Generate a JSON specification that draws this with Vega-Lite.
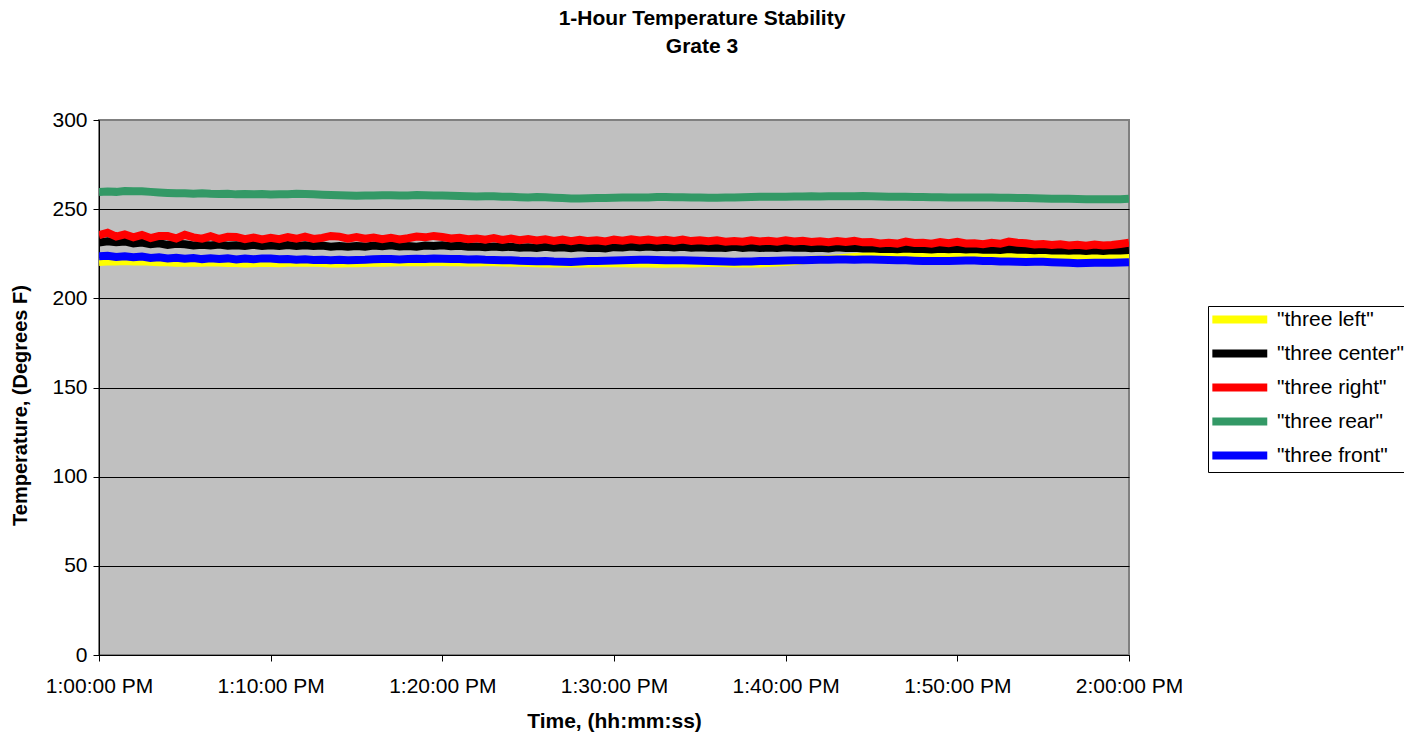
{
  "$schema": "https://vega.github.io/schema/vega-lite/v6.json",
  "width": 1030,
  "height": 535,
  "autosize": {"type": "none"},
  "padding": {"left": 99, "top": 120, "right": 275, "bottom": 81},
  "background": "white",
  "config": {
    "font": "Liberation Sans",
    "view": {"fill": "#C0C0C0", "stroke": "#808080", "strokeWidth": 2}
  },
  "title": {
    "text": ["1-Hour Temperature Stability", "Grate 3"],
    "font": "Liberation Sans",
    "fontSize": 21,
    "fontWeight": "bold",
    "color": "black",
    "anchor": "middle",
    "dx": 88,
    "lineHeight": 28,
    "offset": 52
  },
  "data": {
    "values": [
      {"t":0,"left":220.4,"center":231.3,"right":235.5,"rear":259.6,"front":223.6},
      {"t":0.5,"left":220.7,"center":232.0,"right":236.8,"rear":259.9,"front":223.9},
      {"t":1,"left":220.6,"center":231.4,"right":234.6,"rear":259.7,"front":223.2},
      {"t":1.5,"left":220.9,"center":231.9,"right":235.9,"rear":260.2,"front":223.6},
      {"t":2,"left":220.7,"center":230.8,"right":234.2,"rear":260.0,"front":223.0},
      {"t":2.5,"left":220.8,"center":231.3,"right":235.6,"rear":260.1,"front":223.4},
      {"t":3,"left":220.5,"center":230.4,"right":233.8,"rear":259.7,"front":222.6},
      {"t":3.5,"left":220.3,"center":230.9,"right":235.0,"rear":259.4,"front":223.0},
      {"t":4,"left":220.2,"center":230.0,"right":234.9,"rear":259.1,"front":222.4},
      {"t":4.5,"left":219.9,"center":230.6,"right":233.6,"rear":258.9,"front":222.8},
      {"t":5,"left":219.9,"center":230.3,"right":235.6,"rear":258.9,"front":222.2},
      {"t":5.5,"left":220.1,"center":229.7,"right":234.2,"rear":258.7,"front":222.6},
      {"t":6,"left":220.0,"center":230.1,"right":233.5,"rear":258.9,"front":222.0},
      {"t":6.5,"left":220.2,"center":229.6,"right":234.8,"rear":258.6,"front":222.5},
      {"t":7,"left":220.1,"center":230.2,"right":233.3,"rear":258.5,"front":222.1},
      {"t":7.5,"left":219.8,"center":229.5,"right":234.5,"rear":258.7,"front":222.4},
      {"t":8,"left":219.8,"center":229.8,"right":234.4,"rear":258.3,"front":221.8},
      {"t":8.5,"left":219.6,"center":229.4,"right":233.2,"rear":258.5,"front":222.3},
      {"t":9,"left":219.7,"center":230.0,"right":234.1,"rear":258.3,"front":221.9},
      {"t":9.5,"left":219.9,"center":229.3,"right":233.0,"rear":258.5,"front":222.4},
      {"t":10,"left":219.8,"center":229.7,"right":233.9,"rear":258.2,"front":222.3},
      {"t":10.5,"left":219.7,"center":229.3,"right":233.2,"rear":258.4,"front":221.9},
      {"t":11,"left":219.9,"center":229.9,"right":234.4,"rear":258.4,"front":222.1},
      {"t":11.5,"left":220.0,"center":229.4,"right":233.4,"rear":258.6,"front":221.7},
      {"t":12,"left":220.0,"center":229.8,"right":234.6,"rear":258.5,"front":221.9},
      {"t":12.5,"left":219.9,"center":229.3,"right":233.3,"rear":258.3,"front":221.5},
      {"t":13,"left":219.8,"center":229.6,"right":233.9,"rear":258.1,"front":221.7},
      {"t":13.5,"left":219.6,"center":229.0,"right":235.0,"rear":257.9,"front":221.4},
      {"t":14,"left":219.6,"center":229.4,"right":234.6,"rear":257.8,"front":221.6},
      {"t":14.5,"left":219.7,"center":228.9,"right":233.5,"rear":257.6,"front":221.3},
      {"t":15,"left":219.7,"center":229.3,"right":234.3,"rear":257.5,"front":221.5},
      {"t":15.5,"left":219.8,"center":229.0,"right":233.4,"rear":257.7,"front":221.6},
      {"t":16,"left":219.9,"center":229.6,"right":234.1,"rear":257.6,"front":221.9},
      {"t":16.5,"left":220.0,"center":229.2,"right":233.2,"rear":257.8,"front":222.1},
      {"t":17,"left":220.1,"center":229.7,"right":234.0,"rear":257.8,"front":222.0},
      {"t":17.5,"left":220.2,"center":229.1,"right":233.0,"rear":257.6,"front":221.8},
      {"t":18,"left":220.2,"center":229.4,"right":233.7,"rear":257.7,"front":222.0},
      {"t":18.5,"left":220.3,"center":229.0,"right":234.6,"rear":257.9,"front":222.2},
      {"t":19,"left":220.3,"center":229.6,"right":234.2,"rear":257.8,"front":222.1},
      {"t":19.5,"left":220.4,"center":229.3,"right":235.0,"rear":257.7,"front":222.3},
      {"t":20,"left":220.4,"center":229.8,"right":234.4,"rear":257.6,"front":222.2},
      {"t":20.5,"left":220.3,"center":229.2,"right":233.6,"rear":257.5,"front":222.0},
      {"t":21,"left":220.2,"center":229.5,"right":234.0,"rear":257.4,"front":222.1},
      {"t":21.5,"left":220.1,"center":228.9,"right":233.2,"rear":257.2,"front":221.8},
      {"t":22,"left":220.1,"center":229.1,"right":233.6,"rear":257.1,"front":221.9},
      {"t":22.5,"left":220.2,"center":228.7,"right":232.9,"rear":257.2,"front":221.6},
      {"t":23,"left":220.3,"center":229.1,"right":233.8,"rear":257.2,"front":221.5},
      {"t":23.5,"left":220.1,"center":228.6,"right":232.8,"rear":257.0,"front":221.3},
      {"t":24,"left":220.0,"center":228.9,"right":233.5,"rear":256.9,"front":221.4},
      {"t":24.5,"left":219.9,"center":228.4,"right":232.6,"rear":256.7,"front":221.1},
      {"t":25,"left":219.8,"center":228.7,"right":233.2,"rear":256.6,"front":221.0},
      {"t":25.5,"left":219.7,"center":228.3,"right":232.4,"rear":256.8,"front":220.8},
      {"t":26,"left":219.6,"center":228.9,"right":233.1,"rear":256.7,"front":220.9},
      {"t":26.5,"left":219.5,"center":228.4,"right":232.2,"rear":256.4,"front":220.6},
      {"t":27,"left":219.5,"center":228.6,"right":232.9,"rear":256.2,"front":220.5},
      {"t":27.5,"left":219.5,"center":228.1,"right":232.0,"rear":256.0,"front":220.4},
      {"t":28,"left":219.6,"center":228.6,"right":232.8,"rear":256.0,"front":220.7},
      {"t":28.5,"left":219.6,"center":228.2,"right":232.1,"rear":256.1,"front":220.9},
      {"t":29,"left":219.7,"center":228.4,"right":232.6,"rear":256.2,"front":221.0},
      {"t":29.5,"left":219.7,"center":228.0,"right":231.9,"rear":256.3,"front":221.1},
      {"t":30,"left":219.8,"center":228.7,"right":232.9,"rear":256.4,"front":221.2},
      {"t":30.5,"left":219.7,"center":228.5,"right":232.3,"rear":256.6,"front":221.4},
      {"t":31,"left":219.6,"center":229.0,"right":233.1,"rear":256.6,"front":221.5},
      {"t":31.5,"left":219.5,"center":228.6,"right":232.4,"rear":256.5,"front":221.6},
      {"t":32,"left":219.5,"center":229.1,"right":233.0,"rear":256.6,"front":221.6},
      {"t":32.5,"left":219.4,"center":228.7,"right":232.3,"rear":256.8,"front":221.5},
      {"t":33,"left":219.4,"center":228.9,"right":232.8,"rear":256.8,"front":221.4},
      {"t":33.5,"left":219.5,"center":228.5,"right":232.2,"rear":256.7,"front":221.3},
      {"t":34,"left":219.5,"center":228.9,"right":232.9,"rear":256.7,"front":221.3},
      {"t":34.5,"left":219.6,"center":228.4,"right":232.1,"rear":256.6,"front":221.2},
      {"t":35,"left":219.7,"center":228.7,"right":232.6,"rear":256.5,"front":221.1},
      {"t":35.5,"left":219.8,"center":228.3,"right":232.0,"rear":256.4,"front":220.9},
      {"t":36,"left":219.9,"center":228.5,"right":232.5,"rear":256.4,"front":220.8},
      {"t":36.5,"left":219.7,"center":228.2,"right":231.8,"rear":256.5,"front":220.6},
      {"t":37,"left":219.6,"center":228.9,"right":232.2,"rear":256.6,"front":220.5},
      {"t":37.5,"left":219.5,"center":228.3,"right":231.7,"rear":256.7,"front":220.6},
      {"t":38,"left":219.5,"center":228.7,"right":232.5,"rear":256.8,"front":220.7},
      {"t":38.5,"left":219.6,"center":228.2,"right":231.9,"rear":256.9,"front":220.9},
      {"t":39,"left":219.8,"center":228.5,"right":232.3,"rear":256.9,"front":221.0},
      {"t":39.5,"left":220.1,"center":228.2,"right":231.8,"rear":257.0,"front":221.1},
      {"t":40,"left":220.4,"center":228.6,"right":232.5,"rear":257.0,"front":221.2},
      {"t":40.5,"left":220.8,"center":228.3,"right":231.9,"rear":257.1,"front":221.3},
      {"t":41,"left":221.3,"center":228.5,"right":232.3,"rear":257.1,"front":221.4},
      {"t":41.5,"left":221.6,"center":228.1,"right":231.6,"rear":257.2,"front":221.5},
      {"t":42,"left":221.8,"center":228.3,"right":232.0,"rear":257.1,"front":221.6},
      {"t":42.5,"left":222.1,"center":228.0,"right":231.5,"rear":257.2,"front":221.7},
      {"t":43,"left":222.4,"center":228.6,"right":232.1,"rear":257.2,"front":221.8},
      {"t":43.5,"left":222.8,"center":228.2,"right":231.6,"rear":257.3,"front":221.8},
      {"t":44,"left":223.2,"center":228.3,"right":232.2,"rear":257.2,"front":221.7},
      {"t":44.5,"left":223.5,"center":227.9,"right":231.4,"rear":257.4,"front":221.8},
      {"t":45,"left":223.8,"center":228.1,"right":231.6,"rear":257.3,"front":221.8},
      {"t":45.5,"left":224.0,"center":227.7,"right":230.8,"rear":257.1,"front":221.6},
      {"t":46,"left":224.2,"center":227.8,"right":231.2,"rear":257.0,"front":221.5},
      {"t":46.5,"left":224.4,"center":227.5,"right":230.7,"rear":256.9,"front":221.4},
      {"t":47,"left":224.5,"center":228.0,"right":231.8,"rear":256.9,"front":221.3},
      {"t":47.5,"left":224.6,"center":227.6,"right":231.0,"rear":256.8,"front":221.1},
      {"t":48,"left":224.7,"center":227.7,"right":231.2,"rear":256.8,"front":221.0},
      {"t":48.5,"left":224.8,"center":227.4,"right":230.6,"rear":256.7,"front":220.9},
      {"t":49,"left":224.9,"center":227.8,"right":231.5,"rear":256.7,"front":220.9},
      {"t":49.5,"left":225.0,"center":227.5,"right":230.9,"rear":256.6,"front":221.0},
      {"t":50,"left":225.0,"center":227.8,"right":231.7,"rear":256.6,"front":221.1},
      {"t":50.5,"left":224.9,"center":227.4,"right":230.8,"rear":256.5,"front":221.2},
      {"t":51,"left":224.8,"center":227.6,"right":230.9,"rear":256.5,"front":221.2},
      {"t":51.5,"left":224.9,"center":227.2,"right":230.3,"rear":256.6,"front":221.0},
      {"t":52,"left":224.9,"center":227.4,"right":231.1,"rear":256.5,"front":220.9},
      {"t":52.5,"left":224.8,"center":227.1,"right":230.6,"rear":256.4,"front":220.7},
      {"t":53,"left":224.7,"center":227.6,"right":231.8,"rear":256.4,"front":220.6},
      {"t":53.5,"left":224.7,"center":227.3,"right":231.2,"rear":256.3,"front":220.5},
      {"t":54,"left":224.6,"center":227.3,"right":230.9,"rear":256.2,"front":220.4},
      {"t":54.5,"left":224.6,"center":226.9,"right":230.2,"rear":256.1,"front":220.5},
      {"t":55,"left":224.5,"center":227.2,"right":230.5,"rear":256.0,"front":220.5},
      {"t":55.5,"left":224.4,"center":226.8,"right":229.9,"rear":255.9,"front":220.3},
      {"t":56,"left":224.3,"center":227.0,"right":230.3,"rear":255.8,"front":220.1},
      {"t":56.5,"left":224.1,"center":226.7,"right":229.6,"rear":255.8,"front":219.9},
      {"t":57,"left":224.0,"center":227.0,"right":230.0,"rear":255.7,"front":219.7},
      {"t":57.5,"left":224.1,"center":226.6,"right":229.5,"rear":255.6,"front":219.8},
      {"t":58,"left":224.2,"center":226.9,"right":230.2,"rear":255.6,"front":219.9},
      {"t":58.5,"left":224.2,"center":226.6,"right":229.6,"rear":255.5,"front":219.9},
      {"t":59,"left":224.3,"center":226.9,"right":229.9,"rear":255.5,"front":220.0},
      {"t":59.5,"left":224.4,"center":226.8,"right":230.5,"rear":255.6,"front":220.1},
      {"t":60,"left":224.5,"center":227.1,"right":231.2,"rear":255.9,"front":220.3}
    ]
  },
  "transform": [
    {"fold": ["left", "center", "right", "rear", "front"], "as": ["series", "temp"]}
  ],
  "mark": {"type": "line", "strokeJoin": "miter", "strokeCap": "butt", "clip": true},
  "encoding": {
    "x": {
      "field": "t",
      "type": "quantitative",
      "scale": {"domain": [0, 60], "nice": false, "zero": false},
      "axis": {
        "values": [0, 10, 20, 30, 40, 50, 60],
        "labelExpr": "datum.value == 60 ? '2:00:00 PM' : (datum.value == 0 ? '1:00:00 PM' : '1:' + datum.value + ':00 PM')",
        "labelFlush": false,
        "labelOverlap": false,
        "grid": false,
        "domainColor": "black",
        "domainWidth": 1,
        "tickColor": "black",
        "tickSize": 6,
        "labelFont": "Liberation Sans",
        "labelFontSize": 21,
        "labelColor": "black",
        "labelPadding": 14,
        "title": "Time, (hh:mm:ss)",
        "titleFont": "Liberation Sans",
        "titleFontSize": 21,
        "titleFontWeight": "bold",
        "titleColor": "black",
        "titlePadding": 14
      }
    },
    "y": {
      "field": "temp",
      "type": "quantitative",
      "scale": {"domain": [0, 300], "nice": false},
      "axis": {
        "values": [0, 50, 100, 150, 200, 250, 300],
        "grid": true,
        "gridColor": {"condition": {"test": "datum.value == 300", "value": "#808080"}, "value": "black"},
        "gridWidth": 1,
        "gridOpacity": 1,
        "domainColor": "black",
        "domainWidth": 1,
        "tickColor": "black",
        "tickSize": 6,
        "labelFont": "Liberation Sans",
        "labelFontSize": 21,
        "labelColor": "black",
        "labelPadding": 6,
        "title": "Temperature, (Degrees F)",
        "titleFont": "Liberation Sans",
        "titleFontSize": 20,
        "titleFontWeight": "bold",
        "titleColor": "black",
        "titlePadding": 21,
        "titleY": 285
      }
    },
    "strokeWidth": {
      "field": "series",
      "type": "nominal",
      "scale": {
        "domain": ["left", "center", "right", "rear", "front"],
        "range": [8, 8, 11, 10, 10]
      },
      "legend": null
    },
    "color": {
      "field": "series",
      "type": "nominal",
      "sort": ["left", "center", "right", "rear", "front"],
      "scale": {
        "domain": ["left", "center", "right", "rear", "front"],
        "range": ["#FFFF00", "#000000", "#FF0000", "#339966", "#0000FF"]
      },
      "legend": {
        "orient": "none",
        "legendX": 1109,
        "legendY": 186,
        "title": null,
        "labelExpr": "'\"three ' + datum.label + '\"'",
        "labelFont": "Liberation Sans",
        "labelFontSize": 21,
        "labelColor": "black",
        "labelOffset": 42,
        "symbolType": "M-1,0H5",
        "symbolSize": 335,
        "symbolStrokeWidth": 6,
        "symbolFillColor": "transparent",
        "strokeColor": "black",
        "fillColor": "white",
        "padding": 0,
        "rowPadding": 1
      }
    }
  }
}
